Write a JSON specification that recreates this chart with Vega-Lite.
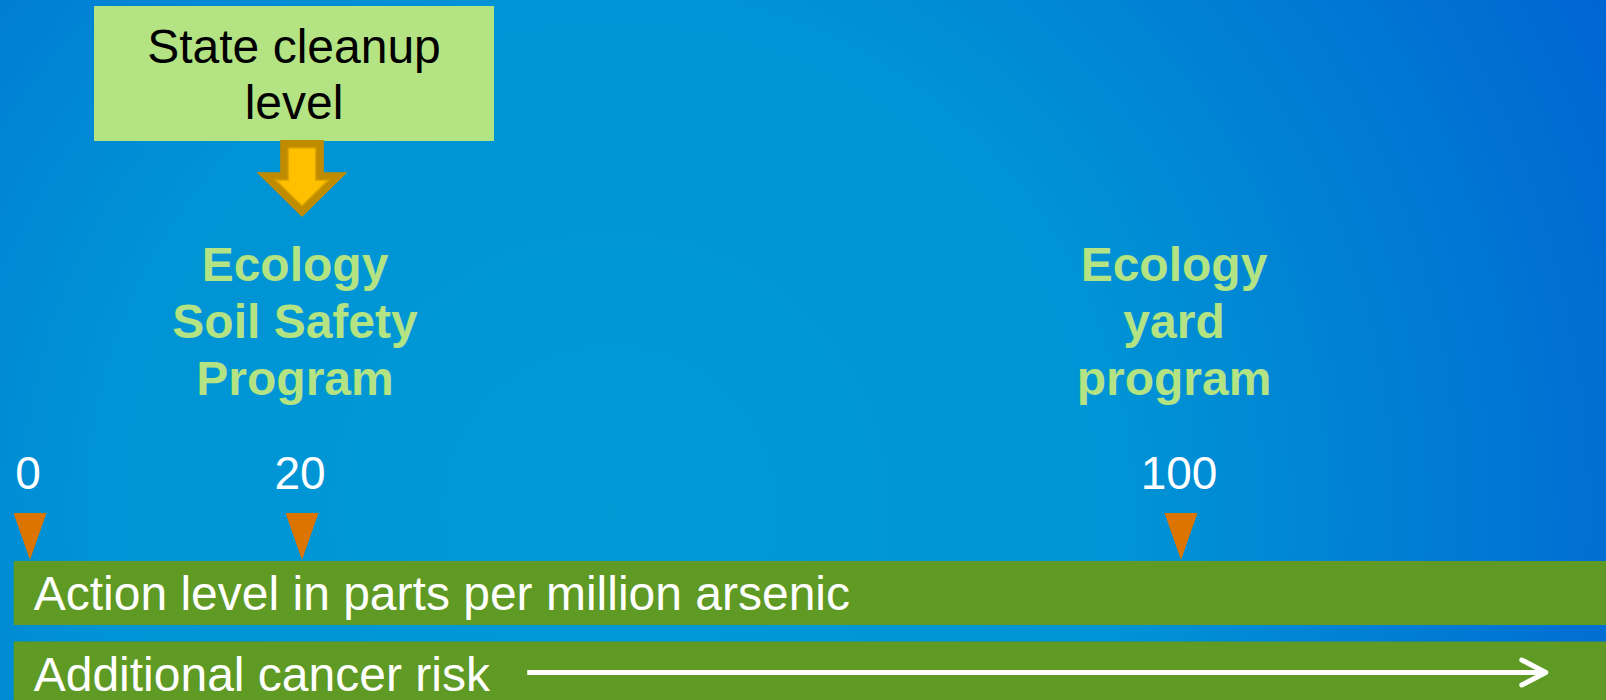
{
  "$schema": "https://vega.github.io/schema/vega-lite/v6.json",
  "width": 1606,
  "height": 700,
  "autosize": {"type": "none"},
  "padding": 0,
  "background": "#0084d2",
  "config": {"view": {"stroke": null}, "text": {"font": "Liberation Sans"}},
  "datasets": {
    "cleanup": [{"ppm": 20, "label": "State cleanup\nlevel"}],
    "programs": [
      {"ppm": 20, "name": "Ecology\nSoil Safety\nProgram"},
      {"ppm": 100, "name": "Ecology\nyard\nprogram"}
    ],
    "levels": [
      {"ppm": 0, "label": "0"},
      {"ppm": 20, "label": "20"},
      {"ppm": 100, "label": "100"}
    ],
    "bands": [
      {"label": "Action level in parts per million arsenic", "from": -1.2, "to": 140, "tier": 5},
      {"label": "Additional cancer risk", "from": -1.2, "to": 140, "tier": 6}
    ],
    "risk": [{"from": 40.5, "to": 133.2, "tier": 6}]
  },
  "layer": [
    {
      "data": {"values": [{}]},
      "mark": {
        "type": "rect",
        "color": {
          "gradient": "radial",
          "x1": 0.38, "y1": 0.6, "r1": 0,
          "x2": 0.38, "y2": 0.6, "r2": 0.72,
          "stops": [
            {"offset": 0, "color": "#009ad7"},
            {"offset": 0.45, "color": "#0093d5"},
            {"offset": 1, "color": "#0062d2"}
          ]
        }
      },
      "encoding": {
        "x": {"value": 0},
        "x2": {"value": "width"},
        "y": {"value": 0},
        "y2": {"value": "height"}
      }
    },
    {
      "data": {"name": "cleanup"},
      "mark": {"type": "point", "shape": "M-1,-0.3375L1,-0.3375L1,0.3375L-1,0.3375Z", "size": 160000, "filled": true, "color": "#b3e383", "opacity": 1, "xOffset": -8},
      "encoding": {
        "x": {"field": "ppm", "type": "quantitative", "axis": null, "scale": {"domain": [0, 20, 100], "range": [30, 302, 1181], "nice": false, "zero": false}},
        "y": {"datum": 0, "type": "quantitative", "axis": null, "scale": {"domain": [0, 1, 2, 3, 4, 5, 6], "range": [73.5, 178.5, 323, 475, 536.5, 593, 673.5], "nice": false, "zero": false}}
      }
    },
    {
      "data": {"name": "cleanup"},
      "mark": {"type": "text", "fontSize": 48, "lineHeight": 56, "lineBreak": "\n", "color": "#000000", "align": "center", "baseline": "middle", "dx": -8, "dy": -25},
      "encoding": {
        "x": {"field": "ppm", "type": "quantitative"},
        "y": {"datum": 0, "type": "quantitative"},
        "text": {"field": "label"}
      }
    },
    {
      "data": {"name": "cleanup"},
      "mark": {"type": "point", "shape": "M-0.48,-0.846L0.48,-0.846L0.48,-0.14L1,-0.14L0,0.846L-1,-0.14L-0.48,-0.14Z", "size": 8281, "filled": true, "color": "#bf8c00", "opacity": 1},
      "encoding": {
        "x": {"field": "ppm", "type": "quantitative"},
        "y": {"datum": 1, "type": "quantitative"}
      }
    },
    {
      "data": {"name": "cleanup"},
      "mark": {"type": "point", "shape": "M-0.3,-0.67L0.3,-0.67L0.3,0.036L0.571,0.036L0,0.599L-0.571,0.036L-0.3,0.036Z", "size": 8281, "filled": true, "fill": "#ffc000", "stroke": "#e0a600", "strokeWidth": 1.5, "opacity": 1},
      "encoding": {
        "x": {"field": "ppm", "type": "quantitative"},
        "y": {"datum": 1, "type": "quantitative"}
      }
    },
    {
      "data": {"name": "programs"},
      "mark": {"type": "text", "fontSize": 48, "fontWeight": "bold", "lineHeight": 57, "lineBreak": "\n", "color": "#b3e383", "align": "center", "baseline": "middle", "dx": -7, "dy": -56},
      "encoding": {
        "x": {"field": "ppm", "type": "quantitative"},
        "y": {"datum": 2, "type": "quantitative"},
        "text": {"field": "name"}
      }
    },
    {
      "data": {"name": "levels"},
      "mark": {"type": "text", "fontSize": 46, "color": "#ffffff", "align": "center", "baseline": "middle", "dx": -2},
      "encoding": {
        "x": {"field": "ppm", "type": "quantitative"},
        "y": {"datum": 3, "type": "quantitative"},
        "text": {"field": "label"}
      }
    },
    {
      "data": {"name": "levels"},
      "mark": {"type": "point", "shape": "M-1,-1.42L1,-1.42L0,1.42Z", "size": 1089, "filled": true, "color": "#dc7400", "opacity": 1},
      "encoding": {
        "x": {"field": "ppm", "type": "quantitative"},
        "y": {"datum": 4, "type": "quantitative"}
      }
    },
    {
      "data": {"name": "bands"},
      "mark": {"type": "rule", "strokeWidth": 64, "strokeCap": "butt", "color": "#5f9a24"},
      "encoding": {
        "x": {"field": "from", "type": "quantitative"},
        "x2": {"field": "to"},
        "y": {"field": "tier", "type": "quantitative"}
      }
    },
    {
      "data": {"name": "bands"},
      "mark": {"type": "text", "fontSize": 48, "color": "#ffffff", "align": "left", "baseline": "middle", "dx": 20, "dy": 3},
      "encoding": {
        "x": {"field": "from", "type": "quantitative"},
        "y": {"field": "tier", "type": "quantitative"},
        "text": {"field": "label"}
      }
    },
    {
      "data": {"name": "risk"},
      "mark": {"type": "rule", "strokeWidth": 5, "strokeCap": "butt", "color": "#ffffff", "yOffset": -1},
      "encoding": {
        "x": {"field": "from", "type": "quantitative"},
        "x2": {"field": "to"},
        "y": {"field": "tier", "type": "quantitative"}
      }
    },
    {
      "data": {"name": "risk"},
      "mark": {"type": "point", "shape": "M-1,-0.52L0,0L-1,0.52", "size": 2304, "filled": false, "color": "#ffffff", "strokeWidth": 5, "strokeCap": "round", "strokeJoin": "round", "opacity": 1, "yOffset": -1},
      "encoding": {
        "x": {"field": "to", "type": "quantitative"},
        "y": {"field": "tier", "type": "quantitative"}
      }
    }
  ]
}
